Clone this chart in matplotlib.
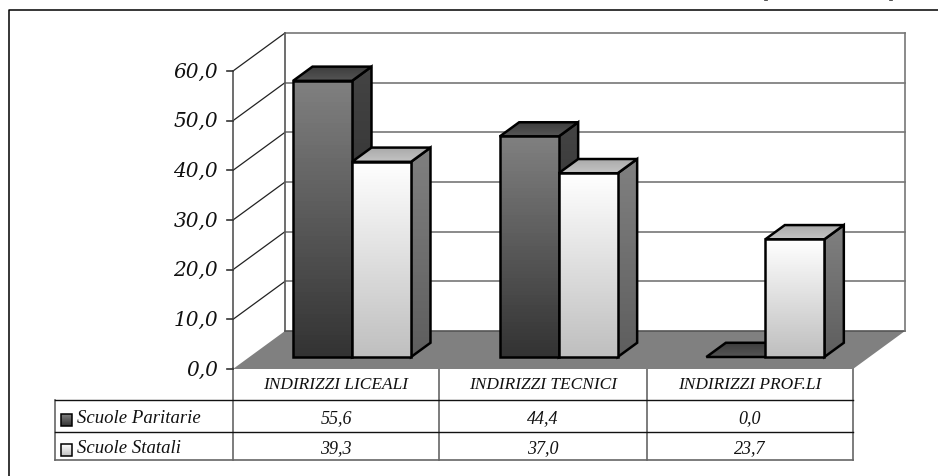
import matplotlib
matplotlib.use("Agg")
import matplotlib.pyplot as plt
import numpy as np
from matplotlib.colors import LinearSegmentedColormap
from matplotlib.patches import Polygon, Rectangle

categories = ["INDIRIZZI LICEALI", "INDIRIZZI TECNICI", "INDIRIZZI PROF.LI"]
series_names = ["Scuole Paritarie", "Scuole Statali"]
paritarie = [55.6, 44.4, 0.0]
statali = [39.3, 37.0, 23.7]
y_ticks = [0, 10, 20, 30, 40, 50, 60]

W, H = 938, 477
# chart area in pixels
LEFT, RIGHT, Y0, Y60 = 233, 853, 370, 72
DEPTH_X, DEPTH_Y = 52, 38
YMAX = 72  # axes go above 60 so the depth of the walls fits inside
XMAX = 3.3

fig = plt.figure(figsize=(W / 100, H / 100), dpi=100)

# page layer in pixels: frame and table
bg = fig.add_axes([0, 0, 1, 1])
bg.set_xlim(0, W)
bg.set_ylim(H, 0)
bg.axis("off")

# chart layer: x in categories, y in values
cat_px = (RIGHT - LEFT) / 3
val_px = (Y0 - Y60) / 60
ax = fig.add_axes([LEFT / W, 1 - Y0 / H, XMAX * cat_px / W, YMAX * val_px / H])
ax.axis("off")
ax.patch.set_alpha(0)

dx = DEPTH_X / cat_px
dy = DEPTH_Y / val_px
z = [5]


def next_z():
    z[0] += 1
    return z[0]


def pr(x, v, d):
    return (x + d * dx, v + d * dy)


def face(verts, top, bottom, lw=1.8):
    verts = np.array(verts)
    cmap = LinearSegmentedColormap.from_list("f", [bottom, top])
    grad = np.linspace(1, 0, 64).reshape(-1, 1)
    zz = next_z()
    im = ax.imshow(grad, cmap=cmap, aspect="auto", vmin=0, vmax=1, zorder=zz,
                   extent=[verts[:, 0].min(), verts[:, 0].max(), verts[:, 1].min(), verts[:, 1].max()])
    poly = Polygon(verts, closed=True, fc="none", ec="black", lw=lw, clip_on=False,
                   joinstyle="miter", zorder=next_z())
    ax.add_patch(poly)
    im.set_clip_path(poly)


def bar3d(x0, w, v, cols):
    d0, d1 = 0.316, 0.69
    base = pr(x0, 0, d0)[1]
    # value measured from the floor under the bar
    top = base + v
    x1 = x0 + w
    sh = (d1 - d0) * dx
    rise = (d1 - d0) * dy
    X0 = x0 + d0 * dx
    X1 = x1 + d0 * dx
    if v > 0:
        face([(X1, base), (X1 + sh, base + rise), (X1 + sh, top + rise), (X1, top)], cols["side"][0], cols["side"][1])
    face([(X0, top), (X1, top), (X1 + sh, top + rise), (X0 + sh, top + rise)], cols["top"][0], cols["top"][1])
    if v > 0:
        face([(X0, base), (X1, base), (X1, top), (X0, top)], cols["front"][0], cols["front"][1])


dark = {"front": ("#808080", "#333333"), "side": ("#444444", "#222222"), "top": ("#3c3c3c", "#555555")}
light = {"front": ("#ffffff", "#bfbfbf"), "side": ("#808080", "#5e5e5e"), "top": ("#a8a8a8", "#c4c4c4")}

# floor
ax.add_patch(Polygon([pr(0, 0, 0), pr(3, 0, 0), pr(3, 0, 1), pr(0, 0, 1)], fc="#808080", ec="none",
                     clip_on=False, zorder=1))

# walls and gridlines
for t in y_ticks[1:]:
    ax.plot(*zip(pr(0, t, 0), pr(0, t, 1)), color="#222222", lw=0.9, clip_on=False, zorder=2)
    ax.plot(*zip(pr(0, t, 1), pr(3, t, 1)), color="#777777", lw=1.2, clip_on=False, zorder=2)
ax.plot(*zip(pr(0, 0, 1), pr(3, 0, 1)), color="#555555", lw=1.2, clip_on=False, zorder=2)
ax.plot(*zip(pr(0, 0, 1), pr(0, 60, 1)), color="#555555", lw=1.2, clip_on=False, zorder=2)
ax.plot(*zip(pr(3, 0, 1), pr(3, 60, 1)), color="#777777", lw=1.2, clip_on=False, zorder=2)
ax.plot([0, 0], [0, 60], color="#555555", lw=1.2, clip_on=False, zorder=2)

# y axis ticks and labels
for t in y_ticks:
    ax.plot([-0.03, 0], [t, t], color="#333333", lw=1.2, clip_on=False, zorder=2)
    ax.text(-0.072, t, f"{t},0", ha="right", va="center", fontsize=14.5,
            family="DejaVu Serif", style="italic", color="#111111")

bar_w = 59 / cat_px
for i in range(3):
    x0 = i + 0.211
    bar3d(x0, bar_w, paritarie[i], dark)
    bar3d(x0 + bar_w, bar_w, statali[i], light)

ax.set_xlim(0, XMAX)
ax.set_ylim(0, YMAX)

# outer frame, cut by the page on the right and at the bottom
bg.plot([W, 9, 9], [11, 11, H], color="black", lw=1.1)
bg.plot([765, 767], [0.5, 0.5], color="#333333", lw=1.2)
bg.plot([890, 892], [0.5, 0.5], color="#333333", lw=1.2)

# table under the chart
col_x = [233, 439, 647, 853]
row_y = [369, 401, 433, 461]
for x in col_x:
    bg.plot([x, x], [row_y[0], row_y[3]], color="#666666", lw=1.2)
bg.plot([55, 55], [row_y[1], row_y[3]], color="#666666", lw=1.2)
bg.plot([55, 853], [row_y[1], row_y[1]], color="#111111", lw=1)
bg.plot([55, 853], [row_y[2], row_y[2]], color="#111111", lw=1)
bg.plot([55, 853], [row_y[3], row_y[3]], color="#666666", lw=1.2)

txt = dict(family="Liberation Serif", style="italic", color="#111111", ha="center", va="center")
for i in range(3):
    xc = (col_x[i] + col_x[i + 1]) / 2
    bg.text(xc, 385, categories[i], fontsize=12.5, **txt)
    bg.text(xc, 419, f"{paritarie[i]:.1f}".replace(".", ","), fontsize=13, **txt)
    bg.text(xc, 449, f"{statali[i]:.1f}".replace(".", ","), fontsize=13, **txt)

swatch_y = [415, 445]
swatch_col = [("#808080", "#333333"), ("#ffffff", "#bfbfbf")]
text_y = [419, 449]
for name, sy, sc, ty in zip(series_names, swatch_y, swatch_col, text_y):
    cmap = LinearSegmentedColormap.from_list("s", [sc[0], sc[1]])
    bg.imshow(np.linspace(0, 1, 32).reshape(-1, 1), cmap=cmap, aspect="auto", extent=[60.5, 71.5, sy + 12, sy])
    bg.add_patch(Rectangle((60.5, sy), 11, 12, fc="none", ec="black", lw=1.1))
    bg.text(77, ty, name, family="Liberation Serif", style="italic", color="#111111",
            ha="left", va="center", fontsize=13.5)
bg.set_xlim(0, W)
bg.set_ylim(H, 0)

fig.savefig("out.png", dpi=100)
